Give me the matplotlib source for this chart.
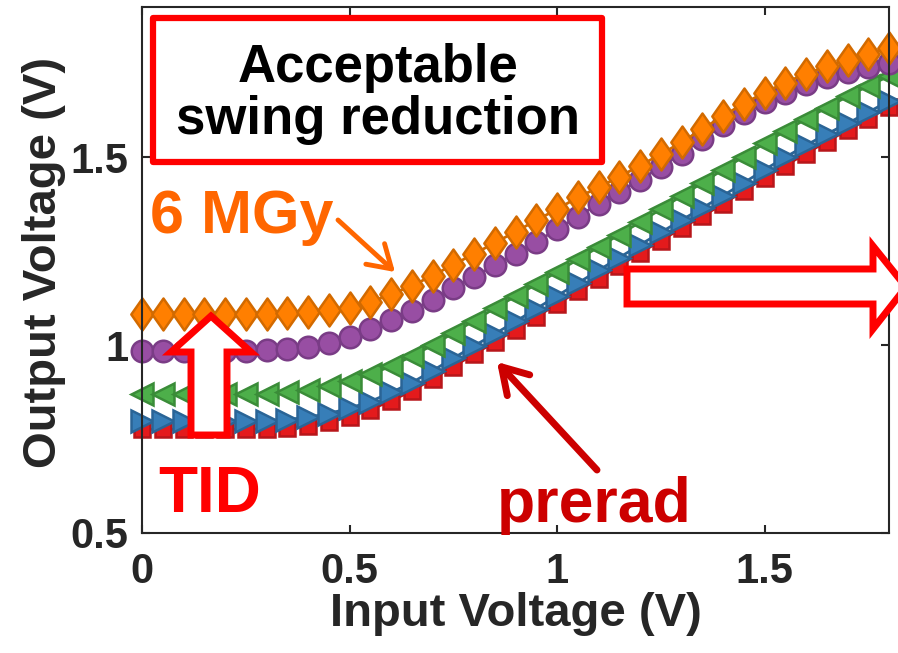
import matplotlib.pyplot as plt
from matplotlib.patches import Polygon, Rectangle
from matplotlib.path import Path

plt.rcParams['font.family'] = ['Liberation Sans', 'DejaVu Sans']
plt.rcParams['font.weight'] = 'bold'
plt.rcParams['axes.labelweight'] = 'bold'

# input voltage sweep (V)
vin = [0.00, 0.05, 0.10, 0.15, 0.20, 0.25, 0.30, 0.35, 0.40, 0.45,
       0.50, 0.55, 0.60, 0.65, 0.70, 0.75, 0.80, 0.85, 0.90, 0.95,
       1.00, 1.05, 1.10, 1.15, 1.20, 1.25, 1.30, 1.35, 1.40, 1.45,
       1.50, 1.55, 1.60, 1.65, 1.70, 1.75, 1.80]

# output voltage (V) for each dose
vout_prerad = [0.776, 0.776, 0.776, 0.776, 0.776, 0.776, 0.777, 0.780, 0.786, 0.796,
               0.810, 0.828, 0.852, 0.878, 0.910, 0.943, 0.976, 1.008, 1.041, 1.075,
               1.109, 1.143, 1.177, 1.211, 1.245, 1.278, 1.311, 1.343, 1.376, 1.410,
               1.445, 1.478, 1.510, 1.542, 1.572, 1.602, 1.635]
vout_d1 = [0.798, 0.798, 0.798, 0.798, 0.798, 0.798, 0.799, 0.802, 0.808, 0.818,
           0.832, 0.850, 0.874, 0.900, 0.932, 0.965, 0.998, 1.030, 1.063, 1.097,
           1.131, 1.165, 1.199, 1.233, 1.267, 1.300, 1.333, 1.365, 1.398, 1.432,
           1.467, 1.500, 1.532, 1.562, 1.590, 1.620, 1.650]
vout_d2 = [0.869, 0.869, 0.869, 0.869, 0.869, 0.869, 0.870, 0.874, 0.881, 0.891,
           0.905, 0.922, 0.944, 0.970, 1.000, 1.032, 1.065, 1.098, 1.130, 1.162,
           1.195, 1.228, 1.261, 1.294, 1.327, 1.362, 1.397, 1.432, 1.467, 1.502,
           1.537, 1.570, 1.602, 1.632, 1.662, 1.690, 1.716]
vout_d3 = [0.985, 0.985, 0.985, 0.985, 0.985, 0.985, 0.986, 0.989, 0.995, 1.006,
           1.022, 1.042, 1.066, 1.092, 1.121, 1.152, 1.182, 1.212, 1.243, 1.275,
           1.308, 1.342, 1.376, 1.408, 1.440, 1.474, 1.510, 1.548, 1.585, 1.618,
           1.646, 1.672, 1.695, 1.713, 1.728, 1.740, 1.750]
vout_6mgy = [1.082, 1.082, 1.082, 1.082, 1.082, 1.082, 1.083, 1.085, 1.088, 1.093,
             1.100, 1.115, 1.135, 1.158, 1.185, 1.214, 1.243, 1.272, 1.302, 1.332,
             1.362, 1.393, 1.420, 1.448, 1.478, 1.508, 1.540, 1.575, 1.610, 1.643,
             1.672, 1.699, 1.722, 1.742, 1.758, 1.775, 1.792]

W, H = 898, 653
fig = plt.figure(figsize=(W / 100, H / 100), dpi=100)
ax = fig.add_axes([142 / W, 1 - 533 / H, (889 - 142) / W, (533 - 7) / H])


def fp(x, y):
    # pixel position (from top-left) -> figure fraction
    return (x / W, 1 - y / H)


tall_diamond = Path([(0, 1), (0.7, 0), (0, -1), (-0.7, 0), (0, 1)],
                    [Path.MOVETO, Path.LINETO, Path.LINETO, Path.LINETO, Path.CLOSEPOLY])

series = [
    (vout_prerad, 's', 11, '#E41A1C', '#B8161A'),
    (vout_d1, '>', 16, '#377EB8', '#2A6496'),
    (vout_d2, '<', 16, '#4DAF4A', '#3A8C38'),
    (vout_d3, 'o', 15.5, '#984EA3', '#7A3C86'),
    (vout_6mgy, tall_diamond, 23, '#FF7F00', '#D26A00'),
]
for vals, mk, ms, fc, ec in series:
    ax.plot(vin, vals, color=ec, lw=2, marker=mk, markersize=ms,
            markerfacecolor=fc, markeredgecolor=ec, markeredgewidth=1.8,
            clip_on=False)

ax.set_xlim(0, 1.8)
ax.set_ylim(0.5, 1.9)
ax.set_xticks([0, 0.5, 1, 1.5])
ax.set_xticklabels(['0', '0.5', '1', '1.5'])
ax.set_yticks([0.5, 1, 1.5])
ax.set_yticklabels(['0.5', '1', '1.5'])
ax.tick_params(direction='in', length=6, width=1.5, labelsize=30,
               colors='#262626', top=True, right=True)
ax.tick_params(axis='x', pad=14)
ax.tick_params(axis='y', pad=10)
for s in ax.spines.values():
    s.set_linewidth(1.5)
    s.set_color('#262626')

ax.set_xlabel('Input Voltage (V)', fontsize=34, fontweight='bold', color='#262626')
ax.set_ylabel('Output Voltage (V)', fontsize=34, fontweight='bold', color='#262626')
ax.xaxis.set_label_coords(0.5, -0.112)
ax.yaxis.set_label_coords(-0.102, 0.515)

# annotation box
x0, y0 = fp(153, 162)
x1, y1 = fp(602, 18)
fig.patches.append(Rectangle((x0, y0), x1 - x0, y1 - y0, transform=fig.transFigure,
                             facecolor='white', edgecolor='#FF0000', lw=4.5,
                             joinstyle='round', zorder=5))
fig.text(*fp(378, 94), 'Acceptable\nswing reduction', fontsize=38, color='black',
         ha='center', va='center', linespacing=1.05, zorder=6)

# hollow block arrows
up_arrow = [(191, 435), (227, 435), (227, 352), (251, 352), (211, 316),
            (171, 352), (191, 352)]
fig.patches.append(Polygon([fp(*p) for p in up_arrow], closed=True,
                           transform=fig.transFigure, facecolor='white',
                           edgecolor='#FF0000', lw=5, zorder=5))
right_arrow = [(627, 269), (873, 269), (873, 246), (906, 287), (873, 329),
               (873, 304), (627, 304)]
fig.patches.append(Polygon([fp(*p) for p in right_arrow], closed=True,
                           transform=fig.transFigure, facecolor='white',
                           edgecolor='#FF0000', lw=5, zorder=5))

# labels and pointers
fig.text(*fp(150, 233), '6 MGy', fontsize=44, color='#FF6600', ha='left', va='baseline')
ax.annotate('', xy=fp(395, 272), xycoords='figure fraction',
            xytext=fp(338, 220), textcoords='figure fraction',
            arrowprops=dict(arrowstyle='->,head_length=0.8,head_width=0.5',
                            mutation_scale=20, color='#FF6600', lw=3.5,
                            shrinkA=0, shrinkB=0))
fig.text(*fp(158, 512), 'TID', fontsize=46, color='#FF0000', ha='left', va='baseline')
fig.text(*fp(497, 522), 'prerad', fontsize=45, color='#CC0000', ha='left', va='baseline')
ax.annotate('', xy=fp(497, 362), xycoords='figure fraction',
            xytext=fp(597, 470), textcoords='figure fraction',
            arrowprops=dict(arrowstyle='->,head_length=0.9,head_width=0.55',
                            mutation_scale=20, color='#CC0000', lw=5,
                            shrinkA=0, shrinkB=0))

fig.savefig('out.png', dpi=100)
